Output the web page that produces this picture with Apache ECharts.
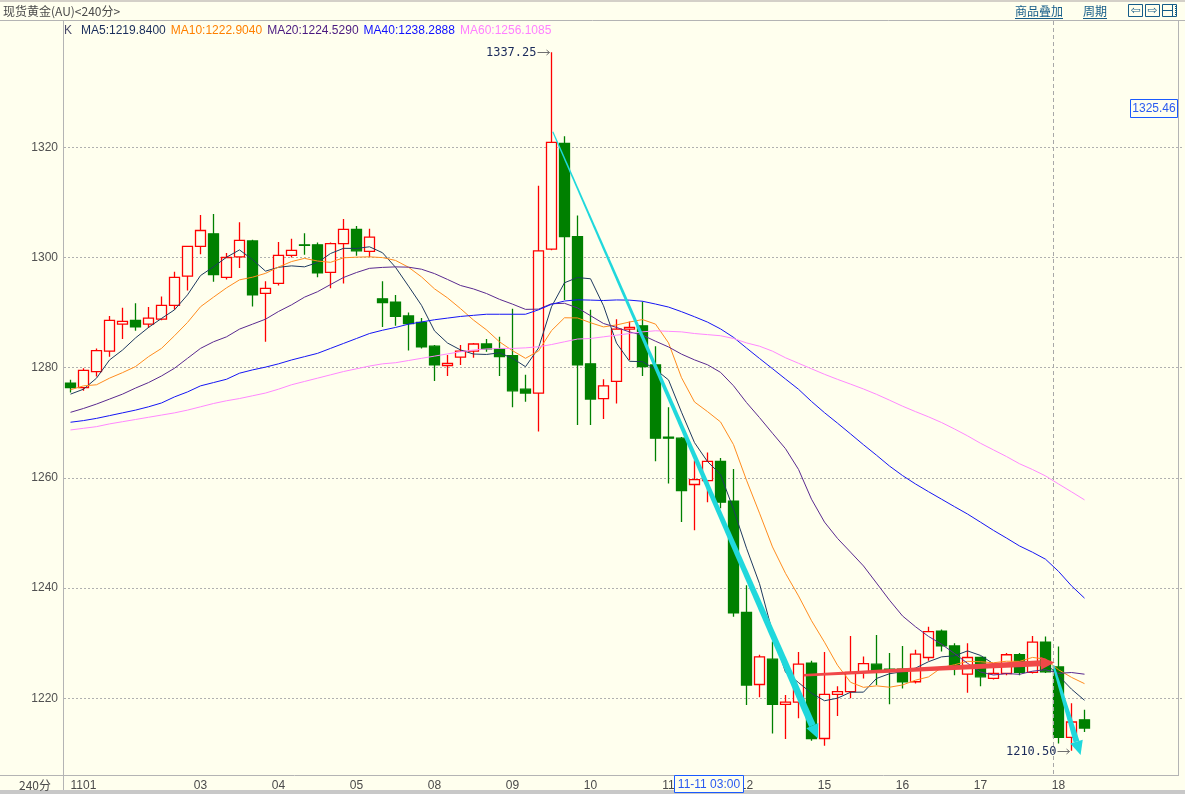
<!DOCTYPE html>
<html><head><meta charset="utf-8">
<script src="https://cdn.jsdelivr.net/npm/echarts@6/dist/echarts.min.js"></script>
<style>html,body{margin:0;padding:0;background:#FFFFEE;}#c{width:1185px;height:794px;}</style>
</head><body><div id="c"></div>
<script>
// ---- data (240-minute candles) ----
const dayTicks = [[0,'1101'],[10,'03'],[16,'04'],[22,'05'],[28,'08'],[34,'09'],[40,'10'],[46,'11'],[52,'12'],[58,'15'],[64,'16'],[70,'17'],[76,'18']];
const opens  = [1277.2,1276.4,1279.3,1283.0,1287.9,1288.6,1287.9,1288.8,1291.3,1296.6,1302.0,1304.3,1296.4,1300.1,1303.0,1293.5,1295.3,1300.4,1302.3,1302.3,1297.3,1302.5,1305.1,1301.1,1292.5,1291.9,1289.4,1288.2,1283.9,1280.4,1281.9,1283.0,1284.3,1283.4,1282.2,1276.1,1275.4,1301.5,1320.7,1303.8,1280.7,1274.4,1277.5,1287.0,1287.6,1280.5,1267.4,1267.2,1258.8,1259.5,1263.0,1255.8,1235.6,1222.5,1227.1,1218.9,1219.3,1226.4,1212.7,1220.7,1221.2,1224.8,1226.2,1225.3,1225.3,1223.0,1227.4,1232.2,1229.5,1224.4,1227.4,1223.6,1224.5,1227.9,1224.7,1230.2,1225.7,1212.9,1216.1];
const closes = [1276.4,1279.5,1283.1,1288.6,1288.4,1287.4,1289.0,1291.3,1296.4,1302.0,1304.9,1296.9,1300.0,1303.1,1293.2,1294.4,1300.4,1301.3,1302.2,1297.2,1302.5,1305.1,1301.2,1303.7,1291.8,1289.3,1288.0,1283.8,1280.5,1280.8,1283.0,1284.3,1283.4,1282.0,1275.8,1275.4,1301.2,1320.9,1303.8,1280.5,1274.3,1276.7,1287.0,1287.3,1280.2,1267.2,1267.2,1257.7,1259.7,1263.0,1255.6,1235.5,1222.4,1227.5,1218.9,1219.3,1226.2,1212.7,1220.7,1221.2,1224.7,1226.3,1225.1,1225.0,1223.0,1228.0,1232.1,1229.5,1226.0,1227.4,1223.9,1224.5,1227.9,1224.7,1230.2,1224.8,1212.9,1215.7,1214.6];
const highs  = [1277.8,1279.9,1283.5,1289.4,1290.9,1291.7,1291.0,1292.9,1297.4,1302.0,1307.7,1307.9,1300.8,1306.4,1303.2,1295.7,1302.8,1303.4,1304.4,1302.7,1302.7,1307.0,1305.7,1305.2,1295.7,1293.2,1290.0,1289.0,1284.1,1282.3,1284.1,1284.5,1285.2,1285.6,1290.7,1278.7,1313.0,1337.25,1322.0,1307.6,1290.5,1277.9,1288.8,1288.4,1292.0,1283.9,1272.8,1267.4,1263.2,1264.6,1263.6,1261.6,1240.5,1227.9,1230.3,1220.6,1228.4,1226.8,1228.4,1222.2,1231.3,1227.6,1231.5,1228.2,1229.5,1228.8,1233.0,1232.5,1230.0,1230.0,1227.6,1225.7,1228.2,1228.2,1231.3,1231.2,1229.4,1219.1,1217.9];
const lows   = [1275.5,1275.8,1278.4,1282.0,1285.2,1286.7,1287.2,1288.6,1290.5,1294.0,1300.6,1295.6,1296.0,1298.1,1291.1,1284.7,1294.9,1300.0,1300.5,1296.4,1294.4,1295.3,1300.3,1300.1,1287.4,1287.6,1283.1,1283.5,1277.6,1278.5,1280.5,1281.8,1282.9,1278.5,1272.8,1273.8,1268.4,1301.3,1292.3,1269.6,1269.6,1270.7,1273.5,1281.4,1278.5,1263.0,1259.0,1252.0,1250.5,1255.6,1254.5,1234.8,1218.8,1220.2,1213.6,1212.6,1216.4,1212.3,1211.4,1216.8,1220.0,1223.6,1222.4,1218.9,1221.8,1222.7,1226.8,1228.5,1224.2,1221.0,1222.2,1223.4,1224.2,1224.2,1224.5,1224.6,1211.8,1210.5,1213.9];
// moving-average values for bars before each window fills
const ma5Head  = [1275.2,1276.1,1278.1,1281.4];
const ma10Head = [1276.0,1276.7,1276.9,1278.1,1279.1,1280.2,1282.0,1283.5,1285.8];
const ma20Head = [1271.9,1272.6,1273.4,1274.3,1275.2,1276.3,1277.3,1278.5,1279.9,1281.7,1283.5,1284.7,1285.6,1287.0,1287.9,1288.8,1290.2,1291.4,1292.8];
const ma40Head = [1270.1,1270.4,1270.8,1271.3,1271.8,1272.3,1272.9,1273.6,1274.7,1275.6,1276.7,1277.3,1277.9,1279.0,1279.6,1280.1,1280.7,1281.4,1282.0,1282.6,1283.5,1284.4,1285.3,1286.2,1286.8,1287.3,1287.9,1288.3,1288.7,1289.0,1289.3,1289.5,1289.7,1289.7,1289.7,1289.7,1290.5,1291.5,1292.1];
const ma60Head = [1268.7,1269.0,1269.3,1269.8,1270.2,1270.6,1271.0,1271.4,1271.8,1272.3,1272.9,1273.5,1274.0,1274.4,1274.9,1275.4,1276.1,1276.9,1277.5,1278.1,1278.7,1279.3,1279.8,1280.3,1280.7,1280.9,1281.3,1281.7,1282.1,1282.5,1282.9,1283.2,1283.4,1283.5,1283.5,1283.6,1283.8,1284.2,1284.7,1285.2,1285.3,1285.6,1285.9,1286.2,1286.5,1286.7,1286.6,1286.5,1286.2,1286.0,1285.8,1285.3,1284.5,1283.9,1283.0,1281.8,1280.8,1279.8,1278.8];
const maLegend = ['MA5:1219.8400','MA10:1222.9040','MA20:1224.5290','MA40:1238.2888','MA60:1256.1085'];
const emptySlots = 7;
// hand-drawn trend arrows: [index, price]
const trendArrows = [
  {from:[37.1,1322.8], to:[57.5,1212.7], color:'#20D8DC', w0:1.2, w1:7},
  {from:[56.4,1224.2], to:[75.7,1226.5], color:'#F04848', w0:2.5, w1:6},
  {from:[75.6,1226.0], to:[77.7,1209.7], color:'#20D8DC', w0:2, w1:6}
];

function movingAvg(n, head){
  return closes.map((c,i)=>{
    if(i < n-1) return head[i];
    let s=0; for(let k=i-n+1;k<=i;k++) s+=closes[k];
    return +(s/n).toFixed(3);
  });
}
const maColors = ['#1F3A60','#FF8C1F','#5A2A90','#1515F5','#FF88FF'];
const legendColors = ['#1A2E5C','#FF8000','#4A1A80','#1010FF','#FF80FF'];
const maSets = [movingAvg(5,ma5Head),movingAvg(10,ma10Head),movingAvg(20,ma20Head),movingAvg(40,ma40Head),movingAvg(60,ma60Head)];
const tickMap = {}; dayTicks.forEach(d=>tickMap[d[0]]=d[1]);
const cats = [];
for(let i=0;i<closes.length+emptySlots;i++) cats.push(tickMap[i]!==undefined?tickMap[i]:'');

const BG='#FFFFEE';
const chart = echarts.init(document.getElementById('c'));
const option = {
  animation:false,
  backgroundColor:BG,
  textStyle:{fontFamily:'Liberation Sans'},
  grid:{left:64, top:40, width:1118, height:735},
  xAxis:{type:'category', data:cats, boundaryGap:true,
    axisLine:{show:false}, axisTick:{show:false}, splitLine:{show:false},
    axisLabel:{interval:0, color:'#4A4A4A', fontSize:12, margin:5, alignMinLabel:'left'}},
  yAxis:{type:'value', min:1206.08, max:1339.47, splitNumber:7, scale:true,
    axisLine:{show:false}, axisTick:{show:false},
    axisLabel:{color:'#505050', fontSize:12, margin:6, showMinLabel:false, showMaxLabel:false,
      formatter:v=>String(Math.round(v))},
    splitLine:{show:true, showMinLine:false, showMaxLine:false, lineStyle:{type:[2,2], color:'#B0B0B0', width:1}}},
  series:[
    {type:'candlestick', barWidth:10, silent:true,
     data:opens.map((o,i)=>[o,closes[i],lows[i],highs[i]]),
     itemStyle:{color:BG, color0:'#008000', borderColor:'#FF0000', borderColor0:'#008000', borderWidth:1.3}},
  ].concat(maSets.map((d,k)=>({type:'line', data:d, symbol:'none', silent:true, z:3,
     lineStyle:{width:1, color:maColors[k]}})))
};
chart.setOption(option);

function px(idx){
  const a=Math.floor(idx), f=idx-a;
  const p0=chart.convertToPixel({xAxisIndex:0}, a);
  const p1=chart.convertToPixel({xAxisIndex:0}, a+1);
  return p0+(p1-p0)*f;
}
function py(v){ return chart.convertToPixel({yAxisIndex:0}, v); }

function arrowShapes(p0,p1,w0,w1,hl,hw,color){
  const dx=p1[0]-p0[0], dy=p1[1]-p0[1], L=Math.hypot(dx,dy);
  const ux=dx/L, uy=dy/L, nx=-uy, ny=ux;
  const b=[p1[0]-ux*hl, p1[1]-uy*hl];
  return [
    {type:'polygon', z:50, shape:{points:[[p0[0]+nx*w0/2,p0[1]+ny*w0/2],[b[0]+nx*w1/2,b[1]+ny*w1/2],[b[0]-nx*w1/2,b[1]-ny*w1/2],[p0[0]-nx*w0/2,p0[1]-ny*w0/2]]}, style:{fill:color}},
    {type:'polygon', z:50, shape:{points:[[b[0]+nx*hw/2,b[1]+ny*hw/2],[p1[0],p1[1]],[b[0]-nx*hw/2,b[1]-ny*hw/2]]}, style:{fill:color}}
  ];
}

const G=[];
const frame='#B4B4B4';
G.push({type:'rect', z:60, shape:{x:0,y:0,width:1185,height:2}, style:{fill:'#D4D0C8'}});
G.push({type:'line', z:60, shape:{x1:0,y1:20.5,x2:1185,y2:20.5}, style:{stroke:frame, lineWidth:1}});
G.push({type:'line', z:60, shape:{x1:63.5,y1:20,x2:63.5,y2:790}, style:{stroke:frame, lineWidth:1}});
G.push({type:'line', z:60, shape:{x1:0,y1:775.5,x2:1178,y2:775.5}, style:{stroke:frame, lineWidth:1}});
G.push({type:'line', z:60, shape:{x1:1178.5,y1:20,x2:1178.5,y2:776}, style:{stroke:frame, lineWidth:1}});
G.push({type:'rect', z:60, shape:{x:0,y:790,width:1185,height:4}, style:{fill:'#C8C8C8'}});
// title
G.push({type:'text', z:60, style:{x:3, y:11, text:'现货黄金(AU)<240分>', fill:'#4A4A4A', font:'12px "Noto Sans CJK SC"', verticalAlign:'middle'}});
// header links
const linkC='#155C88';
G.push({type:'text', z:60, style:{x:1015, y:11, text:'商品叠加', fill:linkC, font:'12px "Noto Sans CJK SC"', verticalAlign:'middle'}});
G.push({type:'line', z:60, shape:{x1:1015,y1:18.5,x2:1063,y2:18.5}, style:{stroke:linkC, lineWidth:1}});
G.push({type:'text', z:60, style:{x:1083, y:11, text:'周期', fill:linkC, font:'12px "Noto Sans CJK SC"', verticalAlign:'middle'}});
G.push({type:'line', z:60, shape:{x1:1083,y1:18.5,x2:1107,y2:18.5}, style:{stroke:linkC, lineWidth:1}});
[[1128.5,'⇦'],[1145.5,'⇨']].forEach(b=>{
  G.push({type:'rect', z:60, shape:{x:b[0],y:4.5,width:14,height:12}, style:{fill:BG, stroke:linkC, lineWidth:1}});
  G.push({type:'text', z:61, style:{x:b[0]+7, y:10.5, text:b[1], fill:linkC, font:'12px "DejaVu Sans"', align:'center', verticalAlign:'middle'}});
});
G.push({type:'rect', z:60, shape:{x:1162.5,y:4.5,width:14,height:12}, style:{fill:BG, stroke:linkC, lineWidth:1}});
G.push({type:'line', z:61, shape:{x1:1163,y1:10.5,x2:1172,y2:10.5}, style:{stroke:linkC, lineWidth:1}});
G.push({type:'line', z:61, shape:{x1:1172.5,y1:5,x2:1172.5,y2:16}, style:{stroke:linkC, lineWidth:1}});
G.push({type:'line', z:61, shape:{x1:1175.5,y1:6,x2:1175.5,y2:16}, style:{stroke:linkC, lineWidth:1, lineDash:[1,1]}});
// legend row
const legRich={k:{fill:'#4A4A6A', font:'12px "Liberation Sans"', padding:[0,9,0,0]}};
let legText='{k|K}';
maLegend.forEach((t,i)=>{ legRich['m'+i]={fill:legendColors[i], font:'12px "Liberation Sans"', padding:[0,5,0,0]}; legText+='{m'+i+'|'+t+'}'; });
G.push({type:'text', z:60, style:{x:64, y:31, text:legText, rich:legRich, verticalAlign:'middle'}});
// left bottom cell
G.push({type:'text', z:60, style:{x:51, y:785, text:'240分', fill:'#4A4A4A', font:'12px "Noto Sans CJK SC"', align:'right', verticalAlign:'middle'}});
// crosshair
const cx=Math.round(px(75.6))+0.5;
G.push({type:'line', z:55, shape:{x1:cx,y1:21,x2:cx,y2:775}, style:{stroke:'#A8A8A8', lineWidth:1, lineDash:[4,3]}});
G.push({type:'rect', z:62, shape:{x:674.5,y:775.5,width:69,height:17}, style:{fill:BG, stroke:'#1A5AFF', lineWidth:1}});
G.push({type:'text', z:63, style:{x:709, y:784.5, text:'11-11 03:00', fill:'#2A5AF0', font:'12px "Liberation Sans"', align:'center', verticalAlign:'middle'}});
G.push({type:'rect', z:62, shape:{x:1130.5,y:99.5,width:47,height:18}, style:{fill:BG, stroke:'#1A5AFF', lineWidth:1}});
G.push({type:'text', z:63, style:{x:1154, y:108.5, text:'1325.46', fill:'#2A5AF0', font:'12px "Liberation Sans"', align:'center', verticalAlign:'middle'}});
// extreme labels
let hi=0, lo=0;
highs.forEach((h,i)=>{ if(h>highs[hi]) hi=i; });
lows.forEach((l,i)=>{ if(l<lows[lo]) lo=i; });
[[hi,highs[hi]],[lo,lows[lo]]].forEach(e=>{
  const x=px(e[0]), y=Math.round(py(e[1]))+0.5;
  G.push({type:'text', z:64, style:{x:x-15, y:y, text:e[1].toFixed(2), fill:'#1A2A5A', font:'12px "DejaVu Sans Mono"', align:'right', verticalAlign:'middle'}});
  G.push({type:'line', z:64, shape:{x1:x-14,y1:y,x2:x-2,y2:y}, style:{stroke:'#707070', lineWidth:1}});
  G.push({type:'polyline', z:64, shape:{points:[[x-5,y-2.5],[x-2,y],[x-5,y+2.5]]}, style:{stroke:'#707070', lineWidth:1, fill:null}});
});
// trend arrows
trendArrows.forEach(a=>{
  const p0=[px(a.from[0]),py(a.from[1])], p1=[px(a.to[0]),py(a.to[1])];
  arrowShapes(p0,p1,a.w0,a.w1,14,13,a.color).forEach(s=>G.push(s));
});
chart.setOption({graphic:G});
</script></body></html>
